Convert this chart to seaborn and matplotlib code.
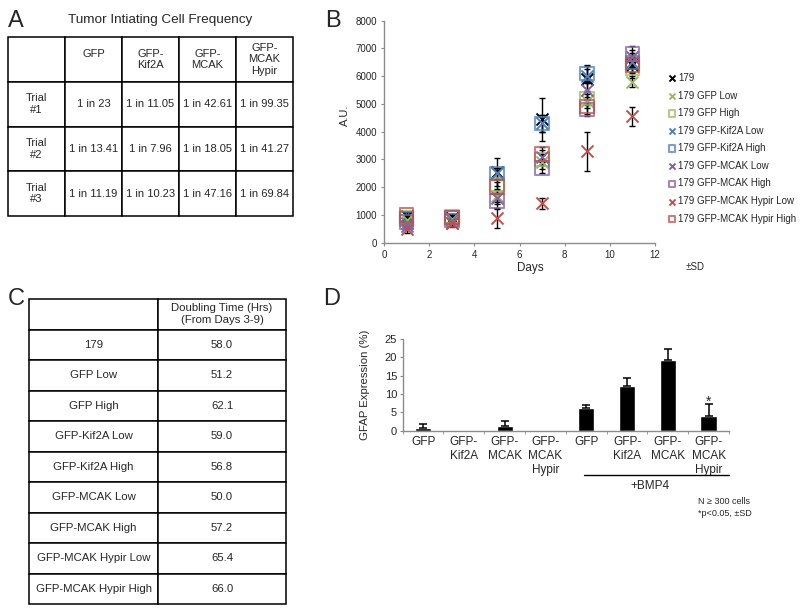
import numpy as np
import pandas as pd
import matplotlib
matplotlib.use("Agg")
import matplotlib.pyplot as plt
import seaborn as sns

sns.set_style("ticks")
plt.rcParams['font.family'] = ['Liberation Sans', 'DejaVu Sans']

W, H = 800, 612


def fig_box(x0, y0, x1, y1):
    # pixel box (top-left origin) -> figure fraction rect
    return [x0 / W, 1 - y1 / H, (x1 - x0) / W, (y1 - y0) / H]


# ---- A: tumor initiating cell frequency
tic_cols = ["", "GFP\n ", "GFP-\nKif2A", "GFP-\nMCAK", "GFP-\nMCAK\nHypir"]
tic_rows = ["Trial\n#1", "Trial\n#2", "Trial\n#3"]
tic_trial1 = ["1 in 23", "1 in 11.05", "1 in 42.61", "1 in 99.35"]
tic_trial2 = ["1 in 13.41", "1 in 7.96", "1 in 18.05", "1 in 41.27"]
tic_trial3 = ["1 in 11.19", "1 in 10.23", "1 in 47.16", "1 in 69.84"]

# ---- B: growth curves (A.U.)
days = [1, 3, 5, 7, 9, 11]
b_names = ["179", "179 GFP Low", "179 GFP High", "179 GFP-Kif2A Low",
           "179 GFP-Kif2A High", "179 GFP-MCAK Low", "179 GFP-MCAK High",
           "179 GFP-MCAK Hypir Low", "179 GFP-MCAK Hypir High"]
au_179 = [950, 900, 2550, 4450, 5900, 6400]
au_gfp_low = [800, 850, 1700, 2900, 5100, 5800]
au_gfp_high = [900, 950, 2100, 3000, 5200, 6300]
au_kif_low = [700, 800, 2500, 4300, 6000, 6500]
au_kif_high = [850, 900, 2500, 4300, 6100, 6500]
au_mcak_low = [600, 700, 1600, 3100, 5500, 6700]
au_mcak_high = [750, 800, 1500, 2700, 4800, 6800]
au_hyp_low = [500, 700, 880, 1420, 3300, 4550]
au_hyp_high = [1000, 900, 2000, 3200, 4900, 6400]
sd_179 = [150, 150, 500, 780, 450, 450]
sd_gfp_low = [100, 100, 250, 250, 250, 200]
sd_gfp_high = [100, 100, 200, 200, 250, 200]
sd_kif_low = [100, 100, 200, 300, 250, 200]
sd_kif_high = [100, 100, 200, 300, 300, 200]
sd_mcak_low = [100, 100, 200, 250, 250, 250]
sd_mcak_high = [100, 100, 250, 200, 250, 300]
sd_hyp_low = [150, 150, 350, 200, 700, 330]
sd_hyp_high = [100, 100, 200, 250, 250, 250]

# ---- C: doubling time
dt_lines = ["179", "GFP Low", "GFP High", "GFP-Kif2A Low", "GFP-Kif2A High",
            "GFP-MCAK Low", "GFP-MCAK High", "GFP-MCAK Hypir Low",
            "GFP-MCAK Hypir High"]
dt_hours = ["58.0", "51.2", "62.1", "59.0", "56.8", "50.0", "57.2", "65.4", "66.0"]

# ---- D: GFAP expression
gfap_keys = ["GFP", "GFP-Kif2A", "GFP-MCAK", "GFP-MCAK Hypir",
             "BMP4 GFP", "BMP4 GFP-Kif2A", "BMP4 GFP-MCAK", "BMP4 GFP-MCAK Hypir"]
gfap_labels = ["GFP", "GFP-\nKif2A", "GFP-\nMCAK", "GFP-\nMCAK\nHypir",
               "GFP", "GFP-\nKif2A", "GFP-\nMCAK", "GFP-\nMCAK\nHypir"]
gfap_mean = [0.7, 0, 1.2, 0, 6.2, 12.3, 19.4, 3.9]
gfap_sd = [1.1, 0, 1.5, 0, 0.7, 2.0, 3.0, 3.3]

fig = plt.figure(figsize=(8, 6.12), dpi=100)

# panel letters
for lab, x, y in [("A", 8, 27), ("B", 325, 27), ("C", 8, 305), ("D", 323, 305)]:
    fig.text(x / W, 1 - y / H, lab, fontsize=17, va="baseline", ha="left")

# ---------- A
fig.text(160 / W, 1 - 20 / H, "Tumor Intiating Cell Frequency", fontsize=9.7,
         ha="center", va="center")
axA = fig.add_axes(fig_box(8, 37, 293, 216))
axA.axis("off")
cells_a = [[r] + v for r, v in zip(tic_rows, [tic_trial1, tic_trial2, tic_trial3])]
tabA = axA.table(cellText=cells_a, colLabels=tic_cols, cellLoc="center",
                 bbox=[0, 0, 1, 1])
tabA.auto_set_font_size(False)
tabA.set_fontsize(8)
for c in tabA.get_celld().values():
    c.set_linewidth(1.1)
    c.set_edgecolor("black")

# ---------- B
axB = fig.add_axes(fig_box(384, 20.7, 655, 242.7))
b_vals = [au_179, au_gfp_low, au_gfp_high, au_kif_low, au_kif_high,
          au_mcak_low, au_mcak_high, au_hyp_low, au_hyp_high]
b_sds = [sd_179, sd_gfp_low, sd_gfp_high, sd_kif_low, sd_kif_high,
         sd_mcak_low, sd_mcak_high, sd_hyp_low, sd_hyp_high]
b_colors = ["black", "#9BBB59", "#9BBB59", "#4F81BD", "#4F81BD",
            "#8064A2", "#8064A2", "#C0504D", "#C0504D"]
b_markers = ["x", "x", "s", "x", "s", "x", "s", "x", "s"]

for vals, sds in zip(b_vals, b_sds):
    axB.errorbar(days, vals, yerr=sds, fmt="none", ecolor="black",
                 elinewidth=1, capsize=2.5, capthick=1, zorder=2)
for name, vals, col, mk in zip(b_names, b_vals, b_colors, b_markers):
    if mk == "x":
        sns.scatterplot(x=days, y=vals, marker="x", color=col, s=75,
                        linewidth=1.4, ax=axB, label=name, zorder=3)
    else:
        sns.scatterplot(x=days, y=vals, marker="s", facecolor="none",
                        edgecolor=col, s=95, linewidth=1.5, alpha=0.75,
                        ax=axB, label=name, zorder=3)

axB.set_xlim(0, 12)
axB.set_ylim(0, 8000)
axB.set_xticks(range(0, 13, 2))
axB.set_yticks(range(0, 8001, 1000))
sns.despine(ax=axB)
for s in ["left", "bottom"]:
    axB.spines[s].set_color("#8c8c8c")
    axB.spines[s].set_linewidth(1)
axB.tick_params(labelsize=7, length=2.5, width=0.8, color="#8c8c8c", pad=2.5)
axB.set_xlabel("Days", fontsize=8.4)
axB.set_ylabel("A.U.", fontsize=8)
axB.xaxis.set_label_coords(0.539, -0.087)
axB.yaxis.set_label_coords(-0.125, 0.575)
axB.legend(loc="upper left", bbox_to_anchor=(668 / W, 1 - 73 / H),
           bbox_transform=fig.transFigure, frameon=False, fontsize=7,
           handlelength=0.8, handletextpad=0.25, labelspacing=0.78,
           borderpad=0, borderaxespad=0, markerscale=0.5)
fig.text(695 / W, 1 - 267 / H, "±SD", fontsize=7, ha="center", va="center")

# ---------- C
axC = fig.add_axes(fig_box(29, 299, 286, 604))
axC.axis("off")
cells_c = [[a, b] for a, b in zip(dt_lines, dt_hours)]
tabC = axC.table(cellText=cells_c,
                 colLabels=["", "Doubling Time (Hrs)\n(From Days 3-9)"],
                 cellLoc="center", colWidths=[0.502, 0.498], bbox=[0, 0, 1, 1])
tabC.auto_set_font_size(False)
tabC.set_fontsize(8.2)
for c in tabC.get_celld().values():
    c.set_linewidth(1.1)
    c.set_edgecolor("black")

# ---------- D
axD = fig.add_axes(fig_box(402.7, 339, 729, 430.7))
gfap_df = pd.DataFrame({"group": gfap_keys, "mean": gfap_mean})
sns.barplot(data=gfap_df, x="group", y="mean", color="black", saturation=1,
            width=0.4, errorbar=None, ax=axD)
idx = [i for i, s in enumerate(gfap_sd) if s > 0]
axD.errorbar(idx, [gfap_mean[i] for i in idx],
             yerr=[[0] * len(idx), [gfap_sd[i] for i in idx]],
             fmt="none", ecolor="black", elinewidth=1.1, capsize=3, capthick=1.1)
axD.set_xlim(-0.5, 7.5)
axD.set_ylim(0, 25)
axD.set_yticks(range(0, 26, 5))
axD.set_xticks(range(8))
axD.set_xticklabels(gfap_labels, fontsize=8.5, linespacing=1.2)
axD.set_xticks(np.arange(-0.5, 8, 1), minor=True)
axD.tick_params(axis="x", which="major", length=0, pad=4)
axD.tick_params(axis="x", which="minor", length=2.5, color="#8c8c8c")
axD.tick_params(axis="y", labelsize=8, length=2.5, color="#8c8c8c", pad=1.5)
sns.despine(ax=axD)
for s in ["left", "bottom"]:
    axD.spines[s].set_color("#8c8c8c")
    axD.spines[s].set_linewidth(1)
axD.set_xlabel("")
axD.set_ylabel("GFAP Expression (%)", fontsize=8.2)
axD.yaxis.set_label_coords(-0.1, 0.5)
axD.text(7, 8.0, "*", fontsize=10, ha="center", va="center")
axD.plot([3.95, 7.5], [-0.483, -0.483], color="black", lw=1,
         transform=axD.get_xaxis_transform(), clip_on=False)
axD.text(5.56, -0.603, "+BMP4", fontsize=8.5, ha="center", va="center",
         transform=axD.get_xaxis_transform())
fig.text(698 / W, 1 - 502 / H, "N ≥ 300 cells", fontsize=6.5, ha="left", va="center")
fig.text(698 / W, 1 - 513 / H, "*p<0.05, ±SD", fontsize=6.5, ha="left", va="center")

fig.savefig("out.png", dpi=100)
